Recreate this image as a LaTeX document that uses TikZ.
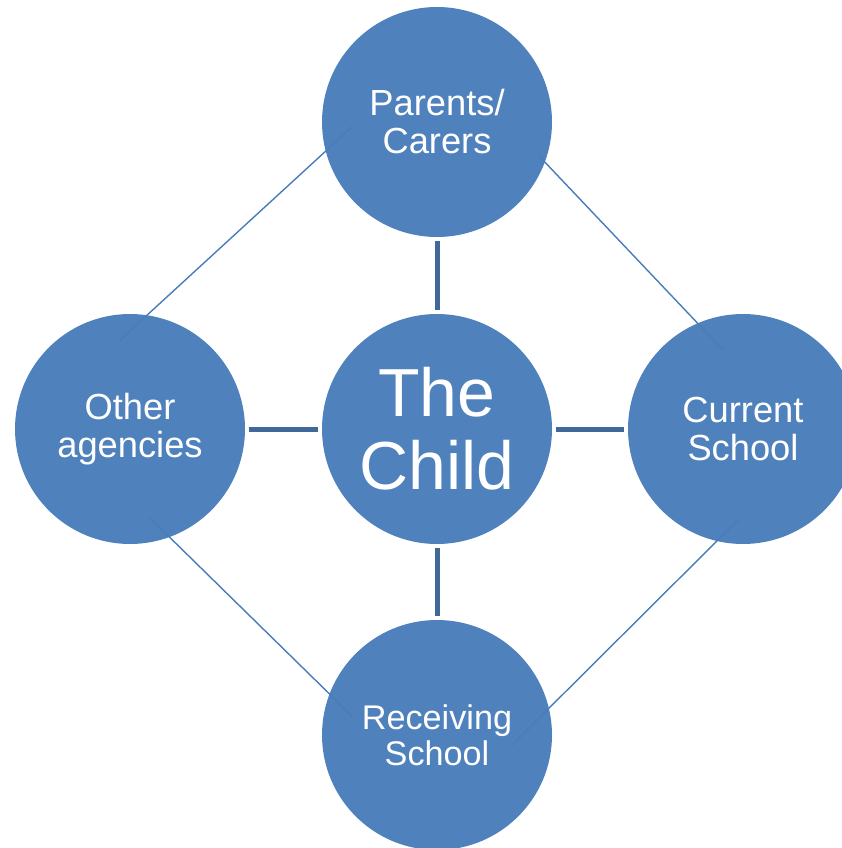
\documentclass[tikz,border=0pt]{standalone}
\usepackage{fontspec}
\setmainfont{Liberation Sans}
\definecolor{circblue}{RGB}{79,129,189}
\definecolor{linkblue}{RGB}{64,104,152}
\definecolor{sideblue}{RGB}{72,124,186}

\begin{document}
\begin{tikzpicture}[
    x=1pt, y=-1pt,
    party/.style={circle, fill=circblue, text=white, minimum size=230pt,
      inner sep=0pt, align=center, font=\fontsize{36.3}{38}\selectfont},
    link/.style={draw=linkblue, line width=5pt, shorten <=4pt, shorten >=4pt},
    side/.style={draw=sideblue, line width=1.4pt}
  ]
  \useasboundingbox (0,0) rectangle (842,848);
  \clip (0,0) rectangle (842,848);
  \node[party, font=\fontsize{68}{73}\selectfont] (child) at (437,429) {The\\Child};
  \node[party] (parents) at (437,122) {Parents/\\Carers};
  \node[party] (others) at (130,429) {Other\\agencies};
  \node[party] (current) at (743,429) {Current\\School};
  \node[party, font=\fontsize{34.2}{36}\selectfont] (receiving) at (437,735) {Receiving\\School};
  \draw[link] (parents) -- (child);
  \draw[link] (others) -- (child);
  \draw[link] (child) -- (current);
  \draw[link] (child) -- (receiving);
  % thin links round the outside
  \coordinate (pa) at ([shift={(-85,5)}]parents.center);
  \coordinate (pb) at ([shift={(103,35)}]parents.center);
  \coordinate (oa) at ([shift={(-10,-89)}]others.center);
  \coordinate (ob) at ([shift={(20,89)}]others.center);
  \coordinate (ca) at ([shift={(-20,-79)}]current.center);
  \coordinate (cb) at ([shift={(-5,91)}]current.center);
  \coordinate (ra) at ([shift={(-84,-18)}]receiving.center);
  \coordinate (rb) at ([shift={(75,10)}]receiving.center);
  \draw[side] (pa) -- (oa);
  \draw[side] (pb) -- (ca);
  \draw[side] (ob) -- (ra);
  \draw[side] (cb) -- (rb);
\end{tikzpicture}
\end{document}
